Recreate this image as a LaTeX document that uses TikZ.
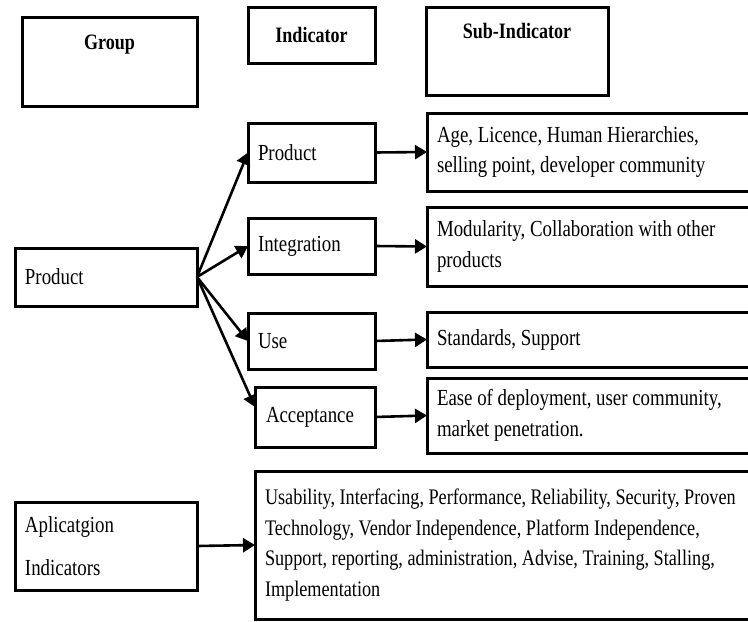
\documentclass[tikz,border=0pt]{standalone}
\usepackage{fontspec}
\setmainfont{Liberation Serif}[FakeStretch=0.82]
\usetikzlibrary{arrows.meta}

\begin{document}
\begin{tikzpicture}[x=0.5pt,y=-0.5pt,
  box/.style={draw,line width=1.5pt,rectangle,inner ysep=0pt,inner xsep=5pt,outer sep=0pt,
    align=flush left,font=\fontsize{11.5}{15.2}\selectfont},
  hdr/.style={box,align=center,font=\fontsize{11}{13}\selectfont\bfseries},
  link/.style={line width=1.3pt,-{Triangle[length=6pt,width=7pt]}}]
\useasboundingbox (0,0) rectangle (748,621);
\clip (0,0) rectangle (748,621);
% column heads
\node[hdr,anchor=north west,minimum width=87.5pt,text height=16pt,text depth=28.5pt] (grp) at (22,17) {Group};
\node[hdr,anchor=north west,minimum width=63.5pt,minimum height=28pt] (ind) at (248,7) {Indicator};
\node[hdr,anchor=north west,minimum width=91pt,text height=16pt,text depth=28pt] (sub) at (426,7) {Sub-Indicator};
% groups
\node[box,anchor=west,text width=81pt,minimum height=29pt] (pgrp) at (15,277) {Product};
\node[box,anchor=west,text width=81pt,minimum height=44pt,font=\fontsize{11.5}{21.5}\selectfont] (apl) at (15,546) {Aplicatgion\\Indicators};
% indicators
\node[box,anchor=west,text width=53.5pt,minimum height=29.5pt] (prod) at (248,152.5) {Product};
\node[box,anchor=west,text width=53.5pt,minimum height=28pt] (integ) at (248,246) {Integration};
\node[box,anchor=west,text width=53.5pt,minimum height=28pt] (use) at (248,341) {Use};
\node[box,anchor=west,text width=49pt,inner xsep=5.5pt,minimum height=30pt] (accept) at (255,417) {Acceptance};
% sub-indicators
\node[box,anchor=west,text width=170pt,minimum height=39pt] (age) at (427,152) {Age, Licence, Human Hierarchies,\\selling point, developer community};
\node[box,anchor=west,text width=170pt,minimum height=39.5pt] (mod) at (427,246.5) {Modularity, Collaboration with other\\products};
\node[box,anchor=west,text width=170pt,minimum height=27.5pt] (std) at (427,339.5) {Standards, Support};
\node[box,anchor=west,text width=170pt,minimum height=37.5pt] (ease) at (427,415.5) {Ease of deployment, user community,\\market penetration.};
\node[box,anchor=west,text width=256pt,minimum height=74pt,font=\fontsize{11.1}{15.2}\selectfont] (usab) at (255,545) {Usability, Interfacing, Performance, Reliability, Security, Proven\\Technology, Vendor Independence, Platform Independence,\\Support, reporting, administration, Advise, Training, Stalling,\\Implementation};
% arrows
\draw[link] (pgrp.east) -- (prod.west);
\draw[link] (pgrp.east) -- (integ.west);
\draw[link] (pgrp.east) -- (use.west);
\draw[link] (pgrp.east) -- ([yshift=5pt]accept.west);
\draw[link] (prod.east) -- (age.west);
\draw[link] (integ.east) -- (mod.west);
\draw[link] (use.east) -- (std.west);
\draw[link] (accept.east) -- (ease.west);
\draw[link] (apl.east) -- (usab.west);
\end{tikzpicture}
\end{document}
